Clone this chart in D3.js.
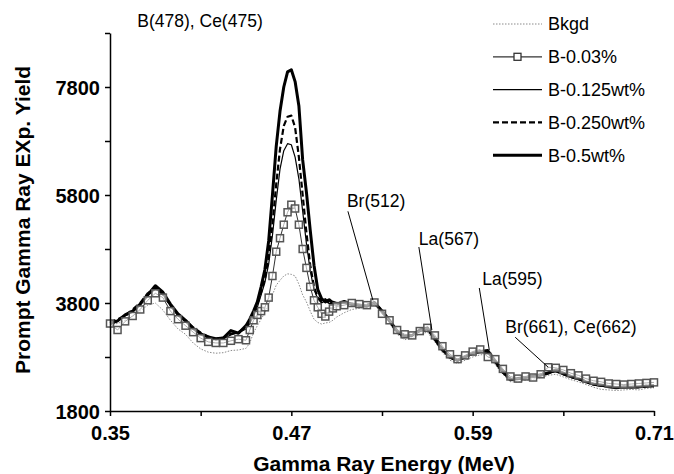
<!DOCTYPE html>
<html>
<head>
<meta charset="utf-8">
<script src="https://cdn.jsdelivr.net/npm/d3@7"></script>
<style>
  body { margin: 0; background: #fff; }
  svg { font-family: "Liberation Sans", Arial, sans-serif; }
</style>
</head>
<body>
<svg id="chart" width="674" height="474"></svg>
<script>
// gamma ray energy (MeV), denser sampling around the 0.47 peak
const energy = [
  0.350, 0.355, 0.360, 0.365, 0.370, 0.375, 0.380, 0.385, 0.390, 0.395,
  0.400, 0.405, 0.410, 0.415, 0.420, 0.425, 0.430, 0.435, 0.440,
  0.4425, 0.445, 0.4475, 0.450, 0.4525, 0.455, 0.4575, 0.460, 0.4625, 0.465,
  0.4675, 0.470, 0.4725, 0.475, 0.4775, 0.480, 0.4825, 0.485, 0.4875, 0.490,
  0.4925, 0.495, 0.4975,
  0.500, 0.505, 0.510, 0.515, 0.520, 0.525, 0.530, 0.535, 0.540, 0.545,
  0.550, 0.555, 0.560, 0.565, 0.570, 0.575, 0.580, 0.585, 0.590, 0.595,
  0.600, 0.605, 0.610, 0.615, 0.620, 0.625, 0.630, 0.635, 0.640, 0.645,
  0.650, 0.655, 0.660, 0.665, 0.670, 0.675, 0.680, 0.685, 0.690, 0.695,
  0.700, 0.705, 0.710
];

const bkgd = [
  3400, 3420, 3480, 3550, 3650, 3760, 3800, 3670, 3480, 3320,
  3220, 3060, 2950, 2890, 2870, 2880, 2920, 2930, 2960,
  3060, 3250, 3380, 3500, 3620, 3780, 3950, 4130, 4220, 4300,
  4340, 4330, 4300, 4150, 3950, 3820, 3650, 3500, 3440, 3410,
  3430, 3440, 3480,
  3540, 3620, 3680, 3700, 3740, 3760, 3620, 3420, 3220, 3120,
  3150, 3220, 3260, 3080, 2880, 2740, 2680, 2740, 2800, 2840,
  2850, 2650, 2480, 2340, 2340, 2370, 2390, 2420, 2460, 2480,
  2430, 2380, 2340, 2290, 2240, 2200, 2190, 2180, 2190, 2200,
  2190, 2220, 2230
];

const b003 = [
  3420, 3300, 3460, 3560, 3680, 3850, 3980, 3900, 3650, 3500,
  3380, 3260, 3150, 3080, 3060, 3060, 3100, 3130, 3110,
  3300, 3480, 3580, 3650, 3720, 3900, 4300, 4750, 5000, 5250,
  5480, 5620, 5550, 5250, 4800, 4450, 4100, 3850, 3720, 3600,
  3550, 3640, 3700,
  3740, 3760, 3800, 3780, 3760, 3810, 3600, 3480, 3300, 3220,
  3200, 3280, 3340, 3200, 3000, 2850, 2760, 2830, 2900, 2940,
  2800, 2760, 2580, 2440, 2400, 2440, 2420, 2480, 2610, 2600,
  2560, 2500, 2460, 2400, 2360, 2340, 2310, 2300, 2290, 2300,
  2310, 2320, 2330
];

const b0125 = [
  3400, 3460, 3560, 3640, 3770, 3940, 4060, 3970, 3740, 3570,
  3450, 3340, 3240, 3160, 3120, 3140, 3210, 3250, 3320,
  3420, 3560, 3720, 3950, 4180, 4520, 5050, 5700, 6280, 6620,
  6750, 6730, 6500, 6100, 5500, 4900, 4400, 4050, 3880, 3800,
  3840, 3790, 3800,
  3790, 3800, 3780, 3740, 3760, 3790, 3640, 3450, 3250, 3160,
  3210, 3270, 3310, 3140, 2940, 2780, 2720, 2790, 2850, 2890,
  2890, 2690, 2500, 2390, 2380, 2420, 2430, 2450, 2500, 2530,
  2470, 2420, 2380, 2340, 2280, 2260, 2250, 2230, 2230, 2240,
  2230, 2250, 2250
];

const b025 = [
  3440, 3500, 3560, 3680, 3800, 3980, 4080, 3960, 3760, 3580,
  3460, 3350, 3250, 3180, 3130, 3160, 3230, 3260, 3350,
  3450, 3600, 3780, 4000, 4250, 4650, 5250, 6000, 6650, 7080,
  7250, 7270, 7050, 6500, 5800, 5100, 4500, 4100, 3900, 3830,
  3870, 3800, 3820,
  3800, 3810, 3790, 3750, 3770, 3790, 3670, 3460, 3260, 3170,
  3220, 3280, 3320, 3150, 2950, 2790, 2730, 2810, 2860, 2910,
  2900, 2700, 2510, 2400, 2390, 2430, 2450, 2460, 2510, 2540,
  2480, 2430, 2390, 2350, 2290, 2270, 2260, 2240, 2240, 2250,
  2240, 2270, 2260
];

const b05 = [
  3420, 3470, 3580, 3650, 3780, 3950, 4120, 4000, 3780, 3600,
  3480, 3330, 3230, 3170, 3140, 3150, 3290, 3240, 3380,
  3500, 3650, 3820, 4100, 4420, 4950, 5800, 6700, 7350, 7800,
  8080, 8120, 7900, 7450, 6450, 5850, 5150, 4500, 4050, 3880,
  3820, 3860, 3800,
  3780, 3830, 3770, 3760, 3740, 3810, 3650, 3480, 3280, 3180,
  3200, 3300, 3340, 3130, 2930, 2800, 2740, 2800, 2870, 2900,
  2920, 2720, 2530, 2380, 2400, 2420, 2440, 2470, 2500, 2560,
  2500, 2440, 2400, 2340, 2300, 2280, 2250, 2230, 2250, 2240,
  2250, 2260, 2270
];

const seriesNames = ["Bkgd", "B-0.03%", "B-0.125wt%", "B-0.250wt%", "B-0.5wt%"];

const xTicks = [0.35, 0.41, 0.47, 0.53, 0.59, 0.65, 0.71];
const xTickLabels = ["0.35", "", "0.47", "", "0.59", "", "0.71"];
const yTicks = [1800, 2800, 3800, 4800, 5800, 6800, 7800, 8800];
const yTickLabels = ["1800", "", "3800", "", "5800", "", "7800", ""];

const peakLabels = ["Br(512)", "La(567)", "La(595)", "Br(661), Ce(662)"];
const peakEnergy = [0.524, 0.563, 0.601, 0.640];
const peakYield = [3850, 3300, 2930, 2610];
const topNote = "B(478), Ce(475)";

const margin = { top: 33, right: 20, bottom: 63, left: 110 };
const svg = d3.select("#chart"),
  width = +svg.attr("width") - margin.left - margin.right,
  height = +svg.attr("height") - margin.top - margin.bottom;

const g = svg.append("g")
  .attr("transform", "translate(" + margin.left + "," + margin.top + ")");

const x = d3.scaleLinear().domain([0.35, 0.71]).range([0, width]);
const y = d3.scaleLinear().domain([1800, 8800]).range([height, 0]);

// series styles, same order as seriesNames
const styles = [
  { data: bkgd, stroke: "#8a8a8a", width: 1, dash: "1.5,1.5" },
  { data: b003, stroke: "#333", width: 1, dash: null, marker: true },
  { data: b0125, stroke: "#000", width: 1.2, dash: null },
  { data: b025, stroke: "#000", width: 2.2, dash: "6,3" },
  { data: b05, stroke: "#000", width: 3, dash: null }
];

const line = d3.line()
  .x((d, i) => x(energy[i]))
  .y(d => y(d));

// draw order: background, thick, dashed, thin, squares on top
[0, 4, 3, 2, 1].forEach(k => {
  const s = styles[k];
  g.append("path")
    .datum(s.data)
    .attr("fill", "none")
    .attr("stroke", s.stroke)
    .attr("stroke-width", s.width)
    .attr("stroke-dasharray", s.dash)
    .attr("stroke-linejoin", "round")
    .attr("d", line);
  if (s.marker) {
    g.selectAll(".sq")
      .data(s.data)
      .enter()
      .append("rect")
      .attr("class", "sq")
      .attr("x", (d, i) => x(energy[i]) - 3.5)
      .attr("y", d => y(d) - 3.5)
      .attr("width", 7)
      .attr("height", 7)
      .attr("fill", "#fff")
      .attr("fill-opacity", 0.6)
      .attr("stroke", "#555")
      .attr("stroke-width", 1.5);
  }
});

// axes
const xAxis = g.append("g")
  .attr("transform", "translate(0," + height + ")")
  .call(d3.axisBottom(x).tickValues(xTicks)
    .tickFormat((d, i) => xTickLabels[i]).tickSize(5).tickSizeOuter(0));
const yAxis = g.append("g")
  .call(d3.axisLeft(y).tickValues(yTicks)
    .tickFormat((d, i) => yTickLabels[i]).tickSize(5).tickSizeOuter(0));

[xAxis, yAxis].forEach(a => {
  a.select(".domain").attr("stroke", "#000").attr("stroke-width", 1.5);
  a.selectAll(".tick line").attr("stroke", "#000").attr("stroke-width", 1.5);
  a.selectAll("text")
    .attr("fill", "#000")
    .attr("font-size", 20)
    .attr("font-weight", "bold")
    .attr("font-family", "Liberation Sans, Arial, sans-serif");
});
xAxis.selectAll("text").attr("dy", "1.05em");
yAxis.selectAll("text").attr("x", -10).attr("dy", "0.35em");

// axis titles
svg.append("text")
  .attr("x", margin.left + width / 2 + 2)
  .attr("y", 471)
  .attr("text-anchor", "middle")
  .attr("font-size", 21)
  .attr("font-weight", "bold")
  .text("Gamma Ray Energy (MeV)");

svg.append("text")
  .attr("transform", "translate(30,220) rotate(-90)")
  .attr("text-anchor", "middle")
  .attr("font-size", 21)
  .attr("font-weight", "bold")
  .text("Prompt Gamma Ray EXp. Yield");

// note above the main peak
svg.append("text")
  .attr("x", 200)
  .attr("y", 27)
  .attr("text-anchor", "middle")
  .attr("font-size", 17.5)
  .text(topNote);

// peak labels with leader lines
const labelOffsets = [
  { tx: -26, ty: -93, lx: -25, ly: -89 },
  { tx: -13, ty: -85, lx: -13, ly: -83 },
  { tx: -7, ty: -65, lx: -10, ly: -62 },
  { tx: -43, ty: -34, lx: -33, ly: -30 }
];
peakLabels.forEach((lab, i) => {
  const px = x(peakEnergy[i]), py = y(peakYield[i]);
  const o = labelOffsets[i];
  g.append("line")
    .attr("x1", px + o.lx).attr("y1", py + o.ly)
    .attr("x2", px).attr("y2", py)
    .attr("stroke", "#000")
    .attr("stroke-width", 1);
  g.append("text")
    .attr("x", px + o.tx)
    .attr("y", py + o.ty)
    .attr("font-size", 17.5)
    .text(lab);
});

// legend
const legend = svg.append("g").attr("transform", "translate(493,24)");
seriesNames.forEach((name, k) => {
  const s = styles[k];
  const row = legend.append("g").attr("transform", "translate(0," + k * 32.8 + ")");
  row.append("line")
    .attr("x1", 0).attr("x2", 49)
    .attr("stroke", s.stroke)
    .attr("stroke-width", k === 1 ? 1.2 : s.width)
    .attr("stroke-dasharray", s.dash);
  if (s.marker) {
    row.append("rect")
      .attr("x", 21).attr("y", -3.5)
      .attr("width", 7).attr("height", 7)
      .attr("fill", "#fff")
      .attr("stroke", "#333")
      .attr("stroke-width", 1.3);
  }
  row.append("text")
    .attr("x", 55)
    .attr("dy", "0.36em")
    .attr("font-size", 18)
    .text(name);
});
</script>
</body>
</html>
